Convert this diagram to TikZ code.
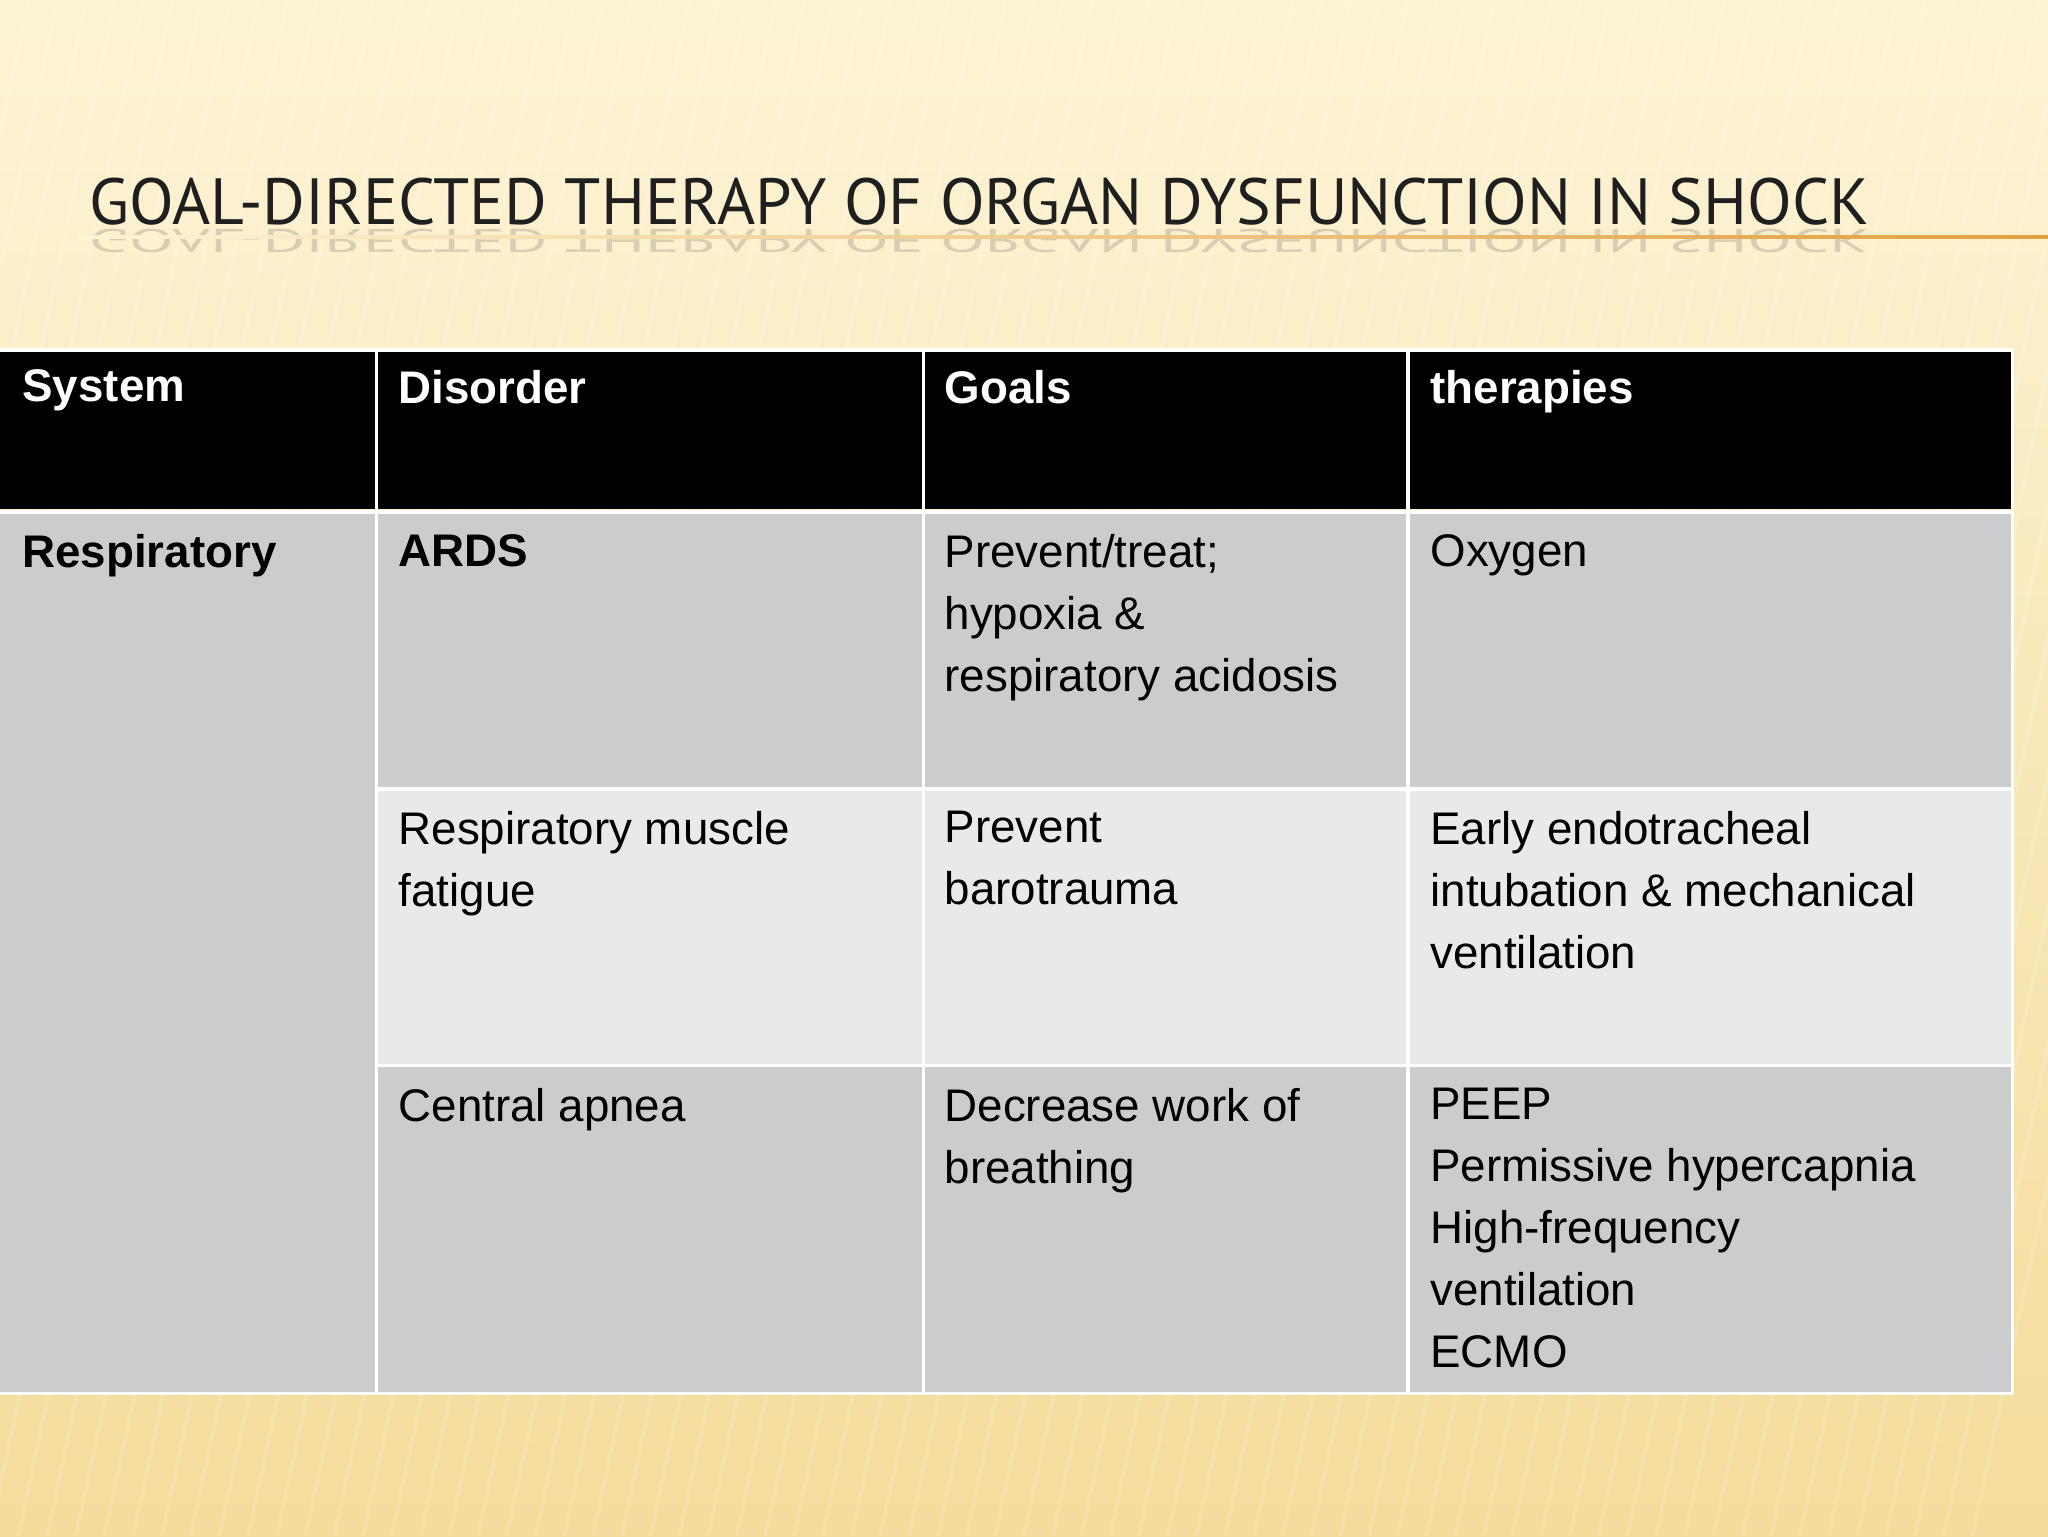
\documentclass[tikz,border=0pt]{standalone}
\usepackage{fontspec}
\setmainfont{Liberation Sans}
\newfontfamily\titlefont{PT Sans}
\begin{document}
\begin{tikzpicture}[x=1pt,y=-1pt,
  cell/.style={anchor=north west,inner sep=0pt,align=left,font=\fontsize{35}{47.5}\selectfont,text depth=0pt},
  hcell/.style={cell,text=white,font=\fontsize{35}{47.5}\selectfont\bfseries},
  grid/.style={white,line width=2.5pt}]
\definecolor{bgtop}{HTML}{FDF4D6}
\definecolor{bgbot}{HTML}{F4DC9C}
\definecolor{cellA}{HTML}{CBCCCE}
\definecolor{cellB}{HTML}{E8E9EB}
\definecolor{lineor}{HTML}{E2A040}
\useasboundingbox (0,0) rectangle (1568,1176);
\shade[top color=bgtop,bottom color=bgbot] (0,0) rectangle (1568,1176);
\foreach \i in {0,...,80} {\draw[white,opacity=0.12,line width=3pt] (\i*22,0) -- (\i*22-250,1176);}
% title
\node[anchor=base west,inner sep=0pt,font=\titlefont\fontsize{50}{56}\selectfont,text=black!88] (title) at (68,172) {GOAL-DIRECTED THERAPY OF ORGAN DYSFUNCTION IN SHOCK};
\node[anchor=base west,inner sep=0pt,font=\titlefont\fontsize{50}{56}\selectfont,text=black!60,opacity=0.25,yscale=-0.5] (refl) at (68,176) {GOAL-DIRECTED THERAPY OF ORGAN DYSFUNCTION IN SHOCK};
\shade[left color=bgtop,right color=lineor] (60,180) rectangle (1568,182.5);
% table fills
\fill[black] (0,268) rectangle (1541,390);
\fill[cellA] (0,393) rectangle (1541,1067);
\fill[cellB] (288,604) rectangle (1541,816);
% grid lines
\draw[grid] (0,392) -- (1541,392);
\draw[grid] (288,604) -- (1541,604);
\draw[grid] (288,816) -- (1541,816);
\foreach \x in {288,707,1078} {\draw[grid] (\x,268) -- (\x,1067);}
\draw[grid] (0,1067) -- (1541,1067);
\draw[grid] (1541,268) -- (1541,1067);
\draw[grid] (0,268) -- (1541,268);
% headers
\node[hcell] (h1) at (17,283) {System};
\node[hcell] (h2) at (305,283) {Disorder};
\node[hcell] (h3) at (723,283) {Goals};
\node[hcell] (h4) at (1095,283) {therapies};
% row 1
\node[cell,font=\fontsize{35}{47.5}\selectfont\bfseries] (s1) at (17,409) {Respiratory};
\node[cell,font=\fontsize{35}{47.5}\selectfont\bfseries] (d1) at (305,409) {ARDS};
\node[cell] (g1) at (723,409) {Prevent/treat;\\hypoxia \&\\respiratory acidosis};
\node[cell] (t1) at (1095,409) {Oxygen};
% row 2
\node[cell] (d2) at (305,621) {Respiratory muscle\\fatigue};
\node[cell] (g2) at (723,621) {Prevent\\barotrauma};
\node[cell] (t2) at (1095,621) {Early endotracheal\\intubation \& mechanical\\ventilation};
% row 3
\node[cell] (d3) at (305,833) {Central apnea};
\node[cell] (g3) at (723,833) {Decrease work of\\breathing};
\node[cell] (t3) at (1095,833) {PEEP\\Permissive hypercapnia\\High-frequency\\ventilation\\ECMO};
\end{tikzpicture}
\end{document}
